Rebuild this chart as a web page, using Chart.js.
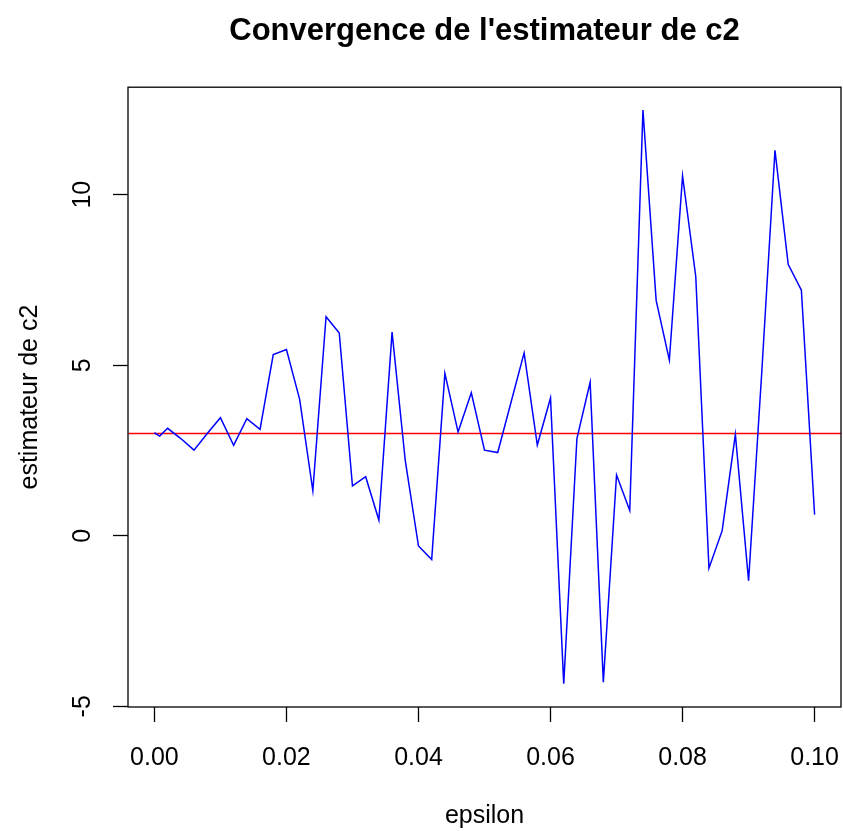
<!DOCTYPE html>
<html lang="fr">
<head>
<meta charset="utf-8">
<title>Convergence de l'estimateur de c2</title>
<script src="https://cdn.jsdelivr.net/npm/chart.js@4.4.1/dist/chart.umd.min.js"></script>
<style>
  html, body { margin: 0; padding: 0; background: #fff; }
  #wrap { width: 843px; height: 831px; }
</style>
</head>
<body>
<div id="wrap"><canvas id="chart" width="843" height="831"></canvas></div>
<script>
"use strict";

// valeurs de epsilon (axe x)
const epsilon = [0, 0.0008, 0.002, 0.004, 0.006, 0.008, 0.010, 0.012, 0.014, 0.016,
  0.018, 0.020, 0.022, 0.024, 0.026, 0.028, 0.030, 0.032, 0.034, 0.036,
  0.038, 0.040, 0.042, 0.044, 0.046, 0.048, 0.050, 0.052, 0.054, 0.056,
  0.058, 0.060, 0.062, 0.064, 0.066, 0.068, 0.070, 0.072, 0.074, 0.076,
  0.078, 0.080, 0.082, 0.084, 0.086, 0.088, 0.090, 0.092, 0.094, 0.096,
  0.098, 0.100];

// estimateur de c2 pour chaque epsilon
const estimateur = [3.02, 2.92, 3.15, 2.85, 2.51, 3.0, 3.46, 2.65, 3.43, 3.12,
  5.31, 5.46, 4.0, 1.32, 6.42, 5.94, 1.46, 1.73, 0.46, 5.97,
  2.2, -0.3, -0.7, 4.76, 3.04, 4.19, 2.51, 2.44, 3.9, 5.36,
  2.66, 4.04, -4.34, 2.85, 4.5, -4.29, 1.78, 0.74, 12.48, 6.9,
  5.15, 10.55, 7.6, -0.95, 0.15, 2.97, -1.32, 4.8, 11.3, 7.96,
  7.2, 0.62];

// vraie valeur (ligne rouge)
const vraieValeur = 3;

const xTicks = [0, 0.02, 0.04, 0.06, 0.08, 0.10];
const yTicks = [-5, 0, 5, 10];

// bornes comme R (4% de marge)
const xMin = -0.004, xMax = 0.104;
const yMin = -5.02, yMax = 13.15;

const police = "'Liberation Sans', Arial, sans-serif";

// cadre autour de la zone de tracé
const cadre = {
  id: 'cadre',
  afterDraw(chart) {
    const a = chart.chartArea;
    const ctx = chart.ctx;
    ctx.save();
    ctx.strokeStyle = '#000';
    ctx.lineWidth = 1.3;
    ctx.strokeRect(a.left, a.top, a.right - a.left, a.bottom - a.top);
    ctx.restore();
  }
};

new Chart(document.getElementById('chart'), {
  type: 'line',
  data: {
    datasets: [{
      label: 'estimateur',
      data: epsilon.map((x, i) => ({ x: x, y: estimateur[i] })),
      borderColor: '#0000ff',
      borderWidth: 1.5,
      pointRadius: 0,
      tension: 0,
      fill: false
    }, {
      label: 'c2',
      data: [{ x: xMin, y: vraieValeur }, { x: xMax, y: vraieValeur }],
      borderColor: '#ff0000',
      borderWidth: 1.6,
      pointRadius: 0,
      fill: false
    }]
  },
  options: {
    responsive: false,
    animation: false,
    layout: { padding: { left: 0, right: 2, top: 0, bottom: 0 } },
    plugins: {
      legend: { display: false },
      tooltip: { enabled: false },
      title: {
        display: true,
        fullSize: false,
        text: "Convergence de l'estimateur de c2",
        color: '#000',
        font: { family: police, size: 31, weight: 'bold' },
        padding: { top: 13, bottom: 37 }
      }
    },
    scales: {
      x: {
        type: 'linear',
        min: xMin,
        max: xMax,
        afterBuildTicks: s => { s.ticks = xTicks.map(v => ({ value: v })); },
        afterFit: s => { s.height = 124; s.paddingLeft = 0; s.paddingRight = 0; },
        grid: { display: true, drawOnChartArea: false, drawTicks: true, tickLength: 15, tickColor: '#000', tickWidth: 1.3 },
        border: { display: false },
        ticks: {
          color: '#000',
          padding: 21,
          maxRotation: 0,
          autoSkip: false,
          font: { family: police, size: 25 },
          callback: v => v.toFixed(2)
        },
        title: {
          display: true,
          text: 'epsilon',
          color: '#000',
          font: { family: police, size: 25 },
          padding: { top: 0, bottom: 0 }
        }
      },
      y: {
        type: 'linear',
        min: yMin,
        max: yMax,
        afterBuildTicks: s => { s.ticks = yTicks.map(v => ({ value: v })); },
        afterFit: s => { s.width = 128; s.paddingTop = 0; s.paddingBottom = 0; },
        grid: { display: true, drawOnChartArea: false, drawTicks: true, tickLength: 15, tickColor: '#000', tickWidth: 1.3 },
        border: { display: false },
        ticks: {
          color: '#000',
          padding: 16,
          minRotation: 90,
          maxRotation: 90,
          crossAlign: 'center',
          autoSkip: false,
          font: { family: police, size: 25 },
          callback: v => String(v)
        },
        title: {
          display: true,
          text: 'estimateur de c2',
          color: '#000',
          font: { family: police, size: 25 },
          padding: { top: 15, bottom: 0 }
        }
      }
    }
  },
  plugins: [cadre]
});
</script>
</body>
</html>
